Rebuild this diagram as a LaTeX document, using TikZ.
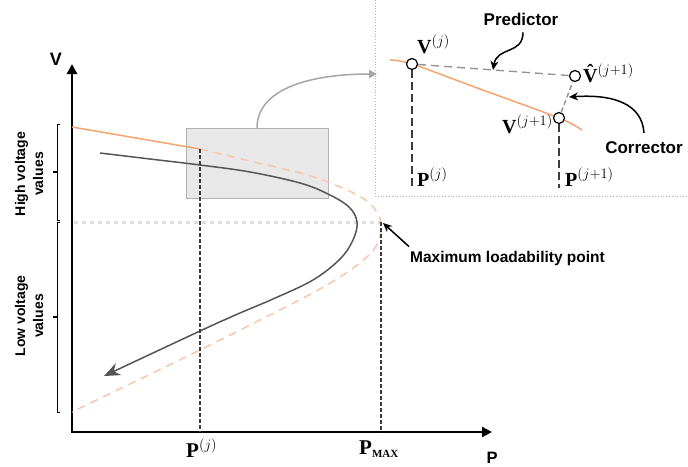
\documentclass[tikz,border=0pt]{standalone}
\usepackage{fontspec}
\setmainfont{Liberation Serif}
\newfontfamily\sansf{Liberation Sans}
\usetikzlibrary{arrows.meta}
\definecolor{orsolid}{RGB}{244,164,112}
\definecolor{ordash}{RGB}{248,198,170}
\definecolor{darkc}{RGB}{85,85,85}
\definecolor{dashc}{RGB}{60,60,60}
\tikzset{
  axisline/.style={line width=2.5pt,{Triangle[length=10pt,width=10pt]}-{Triangle[length=10pt,width=10pt]}},
  curvesolid/.style={draw=orsolid,line width=1.5pt},
  curvedash/.style={draw=ordash,line width=1.5pt,dash pattern=on 8pt off 6pt},
  darkcurve/.style={draw=darkc,line width=1.5pt,-{Stealth[length=16pt,width=13pt]}},
  vdash/.style={draw=dashc,line width=1.2pt,dash pattern=on 4pt off 2pt},
  vdashlong/.style={draw=dashc,line width=1.4pt,dash pattern=on 8pt off 4pt},
  hdots/.style={draw=black!13,line width=3pt,dash pattern=on 4pt off 4pt},
  predline/.style={draw=black!42,line width=1.4pt,dash pattern=on 8pt off 5pt},
  blackarrow/.style={draw=black,line width=1.5pt,-{Stealth[length=9pt,width=8pt]}},
  grayarrow/.style={draw=black!35,line width=1.5pt,-{Triangle[length=8pt,width=8pt]}},
  ptcircle/.style={circle,draw=black,fill=white,line width=1.2pt,minimum size=11pt,inner sep=0pt},
  sanslab/.style={font=\sansf\bfseries\fontsize{17}{20}\selectfont,inner sep=2pt},
  mathlab/.style={font=\fontsize{20}{24}\selectfont,inner sep=0pt},
  biglab/.style={font=\fontsize{21}{25}\selectfont,inner sep=0pt},
  sidelab/.style={font=\sansf\bfseries\fontsize{14}{18}\selectfont,align=center,rotate=90},
  bracket/.style={draw=black,line width=0.8pt}
}
\begin{document}
\begin{tikzpicture}[x=1pt,y=-1pt]
\useasboundingbox (0,0) rectangle (688,466);

% zoom box
\node[draw=black!30,fill=black!9,line width=1pt,minimum width=142pt,minimum height=70pt,inner sep=0pt,anchor=north west] (zoombox) at (186,128) {};

% inset border
\draw[draw=black!30,dotted,line width=0.8pt] (375,0) -- (375,196) -- (688,196);

% gray link arrow
\coordinate (gaend) at (377,74);
\draw[grayarrow] (zoombox.north -| 257,0) .. controls (257,88) and (312,74) .. (gaend);

% horizontal dotted line at max loadability
\coordinate (pmax) at (381,222);
\coordinate (hstart) at (74,222);
\draw[hdots] (hstart) -- (pmax);

% axes
\coordinate (O) at (72,432);
\coordinate (ytop) at (72,64);
\coordinate (xend) at (492,432);
\draw[axisline] (ytop) -- (O) -- (xend);
\node[sanslab,font=\sansf\bfseries\fontsize{18}{20}\selectfont,anchor=base] (vlab) at (56,65) {V};
\node[sanslab,font=\sansf\bfseries\fontsize{16.5}{20}\selectfont,anchor=base] (plab) at (492,463) {P};

% orange nose curve
\coordinate (pj) at (200,149);
\draw[curvesolid] plot[smooth] coordinates {(72,127) (136,138) (200,149)};
\draw[curvedash] plot[smooth,tension=0.6] coordinates {(200,149) (250,161) (300,173) (333,184) (367,201) (381,222) (378,242) (367,257) (340,277) (307,296) (260,320) (200,350) (72,412)};

% dark curve with arrow
\draw[darkcurve] plot[smooth,tension=0.6] coordinates {(100,153) (150,159) (200,165) (250,172) (300,183) (328,194) (349,207) (357,222) (353,240) (340,259) (313,280) (273,299) (240,313) (200,331) (104,376)};

% vertical dashed lines
\coordinate (pjbase) at (200,432);
\coordinate (pmaxbase) at (381,432);
\draw[vdash] (pj) -- (pjbase);
\draw[vdash] (pmax) -- (pmaxbase);

% bottom labels
\node[biglab,anchor=base west] (pjlab) at (186,457) {$\mathbf{P}^{(j)}$};
\node[biglab,anchor=base west] (pmaxlab) at (359,454) {$\mathbf{P}_{\hbox{\fontsize{11}{11}\selectfont\bfseries MAX}}$};

% maximum loadability
\node[sanslab,font=\sansf\bfseries\fontsize{15.5}{18}\selectfont,anchor=base west,inner sep=0pt] (maxlab) at (410,262) {Maximum loadability point};
\coordinate (mltip) at (383,223);
\draw[blackarrow] ([xshift=-1pt,yshift=4pt]maxlab.north west) -- (mltip);

% side brackets
\draw[bracket] (60,124) -- (57,124) -- (57,220) -- (60,220);
\draw[bracket,line width=1.3pt] (57,172) -- (53,172);
\draw[bracket] (60,222) -- (57,222) -- (57,412) -- (60,412);
\draw[bracket,line width=1.3pt] (57,317) -- (53,317);
\node[sidelab] (highlab) at (29,174) {High voltage\\values};
\node[sidelab] (lowlab) at (29,316) {Low voltage\\values};

% inset
\draw[curvesolid] plot[smooth] coordinates {(390,60) (412,64) (480,89) (559,118) (582,130)};
\node[ptcircle] (vj) at (412,64) {};
\node[ptcircle] (vh) at (575,76) {};
\node[ptcircle] (vj1) at (559,118) {};
\draw[predline] (vj) -- (vh);
\draw[predline,dash pattern=on 5pt off 3pt] (vj1) -- (vh);
\coordinate (vjbase) at (412,188);
\coordinate (vj1base) at (559,188);
\draw[vdashlong] (vj) -- (vjbase);
\draw[vdashlong] (vj1) -- (vj1base);

\node[mathlab,anchor=base west] (vjlab) at (417,53) {$\mathbf{V}^{(j)}$};
\node[mathlab,anchor=base west] (vhlab) at (583,82) {\bfseries\^V$^{(j+1)}$};
\node[mathlab,anchor=base west] (vj1lab) at (502,133) {$\mathbf{V}^{(j+1)}$};
\node[mathlab,anchor=base west] (pjlab2) at (417,186) {$\mathbf{P}^{(j)}$};
\node[mathlab,anchor=base west] (pj1lab) at (565,186) {$\mathbf{P}^{(j+1)}$};

\node[sanslab,anchor=base] (predlab) at (521,25) {Predictor};
\node[sanslab,anchor=base] (corrlab) at (644,153) {Corrector};
\coordinate (predtip) at (493,70);
\coordinate (corrtip) at (569,97);
\draw[blackarrow] ([xshift=2pt,yshift=-5pt]predlab.south) .. controls (523,55) and (497,46) .. (predtip);
\draw[blackarrow] ([yshift=6pt]corrlab.north) .. controls (642,104) and (614,94) .. (corrtip);
\end{tikzpicture}
\end{document}
